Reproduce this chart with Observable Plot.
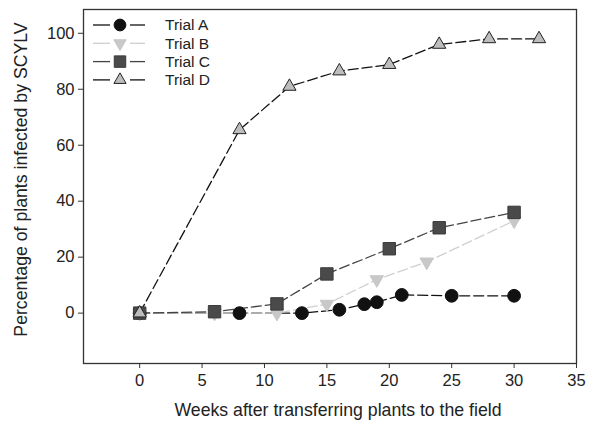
<!DOCTYPE html>
<html>
<head>
<meta charset="utf-8">
<script src="https://cdn.jsdelivr.net/npm/d3@7"></script>
<script src="https://cdn.jsdelivr.net/npm/@observablehq/plot@0.6"></script>
<style>
  html, body { margin: 0; padding: 0; background: #fff; }
  #chart svg { display: block; }
</style>
</head>
<body>
<div id="chart"></div>
<script>
// Data
const weeksA = [0, 8, 13, 16, 18, 19, 21, 25, 30];
const trialA = [0, 0, 0, 1.2, 3.2, 3.9, 6.5, 6.2, 6.2];
const weeksB = [0, 6, 11, 15, 19, 23, 30];
const trialB = [0, 0, 0, 3.2, 12, 18.3, 33];
const weeksC = [0, 6, 11, 15, 20, 24, 30];
const trialC = [0, 0.5, 3.3, 14, 23, 30.5, 36];
const weeksD = [0, 8, 12, 16, 20, 24, 28, 32];
const trialD = [0, 65.5, 81, 86.5, 88.8, 96, 98, 98];

const xTicks = [0, 5, 10, 15, 20, 25, 30, 35];
const yTicks = [0, 20, 40, 60, 80, 100];
const seriesNames = ["Trial A", "Trial B", "Trial C", "Trial D"];

const toRows = (xs, ys) => xs.map((x, i) => ({x, y: ys[i]}));
const rowsA = toRows(weeksA, trialA);
const rowsB = toRows(weeksB, trialB);
const rowsC = toRows(weeksC, trialC);
const rowsD = toRows(weeksD, trialD);

const styles = [
  {line: "#111", fill: "#111", stroke: "#111", symbol: "circle", r: 6.4, rotate: 0},
  {line: "#cfcfcf", fill: "#c8c8c8", stroke: "#c8c8c8", symbol: "triangle", r: 5.0, rotate: 180},
  {line: "#444", fill: "#4a4a4a", stroke: "#3a3a3a", symbol: "square", r: 7.0, rotate: 0},
  {line: "#111", fill: "#bdbdbd", stroke: "#222", symbol: "triangle", r: 4.9, rotate: 0}
];
const allRows = [rowsA, rowsB, rowsC, rowsD];
const dash = "10,4";
const font = "Liberation Sans, Arial, Helvetica, sans-serif";

const marks = [];
allRows.forEach((rows, i) => {
  marks.push(Plot.line(rows, {x: "x", y: "y", stroke: styles[i].line, strokeWidth: 1.3, strokeDasharray: dash}));
});
allRows.forEach((rows, i) => {
  const s = styles[i];
  marks.push(Plot.dot(rows, {x: "x", y: "y", symbol: () => s.symbol, r: s.r, fill: s.fill, stroke: s.stroke, strokeWidth: 1, rotate: s.rotate}));
});

const plot = Plot.plot({
  width: 597,
  height: 421,
  marginLeft: 83,
  marginRight: 21,
  marginTop: 9,
  marginBottom: 58,
  style: {fontFamily: font, fontSize: "16.5px", color: "#222", background: "#fff", overflow: "visible"},
  x: {domain: [-4.5, 35], ticks: xTicks},
  y: {domain: [-18, 108.5], ticks: yTicks},
  symbol: {type: "identity"},
  marks: [
    ...marks,
    Plot.frame({stroke: "#333", strokeWidth: 1.3}),
    Plot.axisX({ticks: xTicks, tickSize: 5, tickPadding: 6, label: null, stroke: "#333", fontSize: 16.5}),
    Plot.axisY({ticks: yTicks, tickSize: 5, tickPadding: 4, label: null, stroke: "#333", fontSize: 16.5}),
    Plot.text(["Weeks after transferring plants to the field"], {text: d => d, frameAnchor: "bottom", textAnchor: "middle", dx: 8, dy: 52, fontSize: 17.7, fill: "#222"}),
    Plot.text(["Percentage of plants infected by SCYLV"], {text: d => d, frameAnchor: "left", textAnchor: "middle", dx: -62, dy: -7, rotate: -90, fontSize: 17.7, fill: "#222"})
  ]
});

document.getElementById("chart").appendChild(plot);

// Legend inside the plot, top-left
const svg = d3.select(plot);
const lg = svg.append("g");
const symbolTypes = {circle: d3.symbolCircle, triangle: d3.symbolTriangle, square: d3.symbolSquare};
seriesNames.forEach((name, i) => {
  const s = styles[i];
  const y = 25 + i * 18.3;
  const g = lg.append("g").attr("transform", `translate(0,${y})`);
  g.append("line").attr("x1", 93).attr("x2", 110).attr("stroke", s.line).attr("stroke-width", 1.3);
  g.append("line").attr("x1", 130).attr("x2", 145).attr("stroke", s.line).attr("stroke-width", 1.3);
  g.append("path")
    .attr("d", d3.symbol(symbolTypes[s.symbol], Math.PI * s.r * s.r * 0.85)())
    .attr("transform", `translate(120,0) rotate(${s.rotate})`)
    .attr("fill", s.fill).attr("stroke", s.stroke).attr("stroke-width", 1);
  g.append("text").attr("x", 165).attr("dy", "0.35em").attr("text-anchor", "start")
    .attr("font-family", font).attr("font-size", 15.5).attr("fill", "#222").text(name);
});
</script>
</body>
</html>
